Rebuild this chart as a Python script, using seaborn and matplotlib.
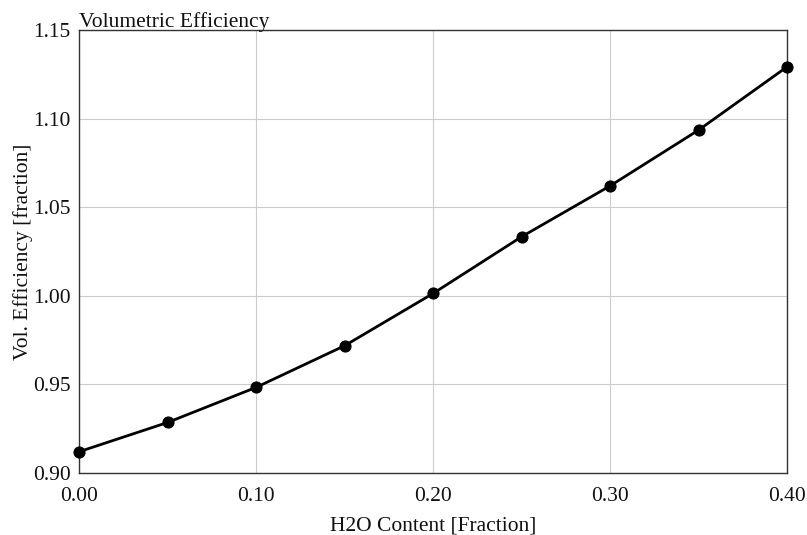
import matplotlib
matplotlib.use("Agg")
import matplotlib.pyplot as plt
import seaborn as sns
import pandas as pd

h2o = [0.00, 0.05, 0.10, 0.15, 0.20, 0.25, 0.30, 0.35, 0.40]
vol_eff = [0.912, 0.9285, 0.9483, 0.9718, 1.0013, 1.0333, 1.0620, 1.0935, 1.1292]
xticks = [0.00, 0.10, 0.20, 0.30, 0.40]
yticks = [0.90, 0.95, 1.00, 1.05, 1.10, 1.15]

df = pd.DataFrame({"h2o": h2o, "eff": vol_eff})

sns.set_theme(style="whitegrid")
plt.rcParams['font.family'] = ['Liberation Serif', 'DejaVu Serif']

fig = plt.figure(figsize=(8.07, 5.35), dpi=100)
ax = fig.add_axes([79/807, 62/535, (787-79)/807, (473-30)/535])

sns.lineplot(data=df, x="h2o", y="eff", ax=ax, color="black", linewidth=2,
             marker="o", markersize=8, markeredgecolor="black", clip_on=False, zorder=5)

ax.set_xlim(0, 0.40)
ax.set_ylim(0.90, 1.15)
ax.set_xticks(xticks)
ax.set_xticklabels([f"{v:.2f}" for v in xticks], fontsize=15.5, color="#111111")
ax.set_yticks(yticks)
ax.set_yticklabels([f"{v:.2f}" for v in yticks], fontsize=15.5, color="#111111")
ax.tick_params(axis="x", length=0, pad=10)
ax.tick_params(axis="y", length=0, pad=6)
ax.grid(True, color="#cccccc", linewidth=0.8)
for s in ax.spines.values():
    s.set_color("#333333")
    s.set_linewidth(1.0)
    s.set_visible(True)

ax.set_xlabel("H2O Content [Fraction]", fontsize=15.5, labelpad=8, color="#111111")
ax.set_ylabel("Vol. Efficiency [fraction]", fontsize=15.5, labelpad=0, color="#111111")
ax.set_title("Volumetric Efficiency", loc="left", fontsize=15.5, pad=2, color="#111111")

fig.savefig("out.png", dpi=100, facecolor="white")
